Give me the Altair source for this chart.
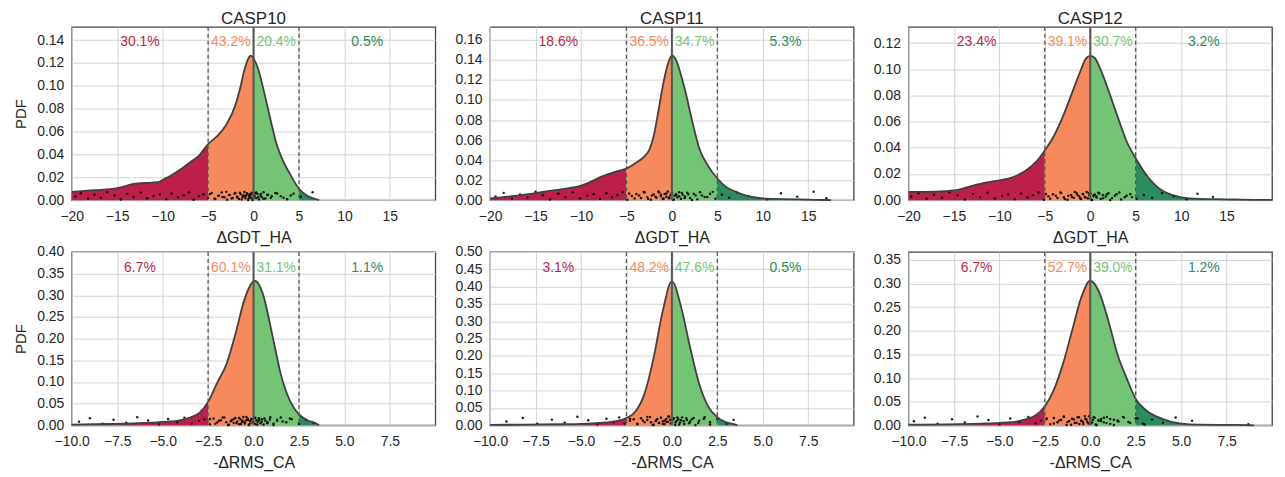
import altair as alt
import pandas as pd

FONT = "Liberation Sans"

TITLES = ["CASP10", "CASP11", "CASP12"]
X_TITLES = ["ΔGDT_HA", "-ΔRMS_CA"]
REGIONS = ["much worse", "worse", "better", "much better"]
REGION_COLORS = ["#bc1f4a", "#f68a5c", "#74c476", "#2b8c5e"]

# ---- density curves ----
P1_X = [-20, -17.5, -15, -13, -12, -10.5, -10, -9, -8, -7, -6, -5, -4, -3, -2, -1.5, -1, -0.5, -0.3, 0,
        0.5, 1, 1.5, 2, 2.5, 3, 4, 5, 6, 6.5, 7, 7.2]
P1_Y = [0.0073, 0.0087, 0.0105, 0.0145, 0.015, 0.0157, 0.0178, 0.022, 0.027, 0.033, 0.039, 0.049, 0.056,
        0.066, 0.083, 0.097, 0.114, 0.125, 0.1265, 0.124, 0.115, 0.1, 0.083, 0.066, 0.05, 0.039, 0.023,
        0.010, 0.0035, 0.0018, 0.0006, 0.0]

P2_X = [-20, -18, -16, -14, -12, -10, -9, -8, -7, -6, -5, -4, -3, -2.5, -2, -1.5, -1, -0.5, 0, 0.5, 1,
        1.5, 2, 2.5, 3, 4, 5, 6, 7, 8, 9, 10, 12, 14, 16, 17.5]
P2_Y = [0.0017, 0.0035, 0.0058, 0.0085, 0.011, 0.0145, 0.018, 0.0225, 0.026, 0.029, 0.0315, 0.037, 0.044,
        0.05, 0.064, 0.088, 0.114, 0.134, 0.1444, 0.139, 0.125, 0.108, 0.088, 0.069, 0.052, 0.034, 0.0216,
        0.013, 0.0085, 0.005, 0.003, 0.0017, 0.0011, 0.0007, 0.0003, 0.0]

P3_X = [-20, -18, -16, -15, -14, -13, -12, -11, -10, -9, -8, -7, -6, -5, -4, -3, -2, -1, -0.5, 0, 0.5, 1,
        2, 3, 4, 5, 6, 7, 8, 9, 10, 12, 14, 16, 18, 20]
P3_Y = [0.0063, 0.0063, 0.0068, 0.0074, 0.0089, 0.011, 0.0127, 0.014, 0.0152, 0.0165, 0.019, 0.023, 0.029,
        0.038, 0.049, 0.064, 0.082, 0.1, 0.108, 0.1103, 0.1086, 0.102, 0.084, 0.064, 0.045, 0.032, 0.021,
        0.0125, 0.007, 0.004, 0.0022, 0.001, 0.0008, 0.0005, 0.0003, 0.0002]

P4_X = [-10, -8, -6, -5, -4, -3.5, -3, -2.5, -2, -1.5, -1, -0.5, 0, 0.1, 0.5, 1, 1.25, 1.5, 1.75, 2, 2.5,
        3, 3.5, 3.6]
P4_Y = [0.0015, 0.003, 0.0053, 0.0076, 0.012, 0.018, 0.028, 0.054, 0.098, 0.14, 0.21, 0.29, 0.332, 0.333,
        0.305, 0.215, 0.165, 0.118, 0.083, 0.057, 0.025, 0.011, 0.003, 0.0]

P5_X = [-10, -8, -6, -5, -4, -3, -2.5, -2, -1.5, -1, -0.5, 0, 0.5, 1, 1.5, 2, 2.5, 3, 3.5, 3.6]
P5_Y = [0.001, 0.002, 0.003, 0.004, 0.0066, 0.013, 0.021, 0.04, 0.092, 0.196, 0.33, 0.415, 0.343, 0.225,
        0.12, 0.054, 0.023, 0.0085, 0.002, 0.0]

P6_X = [-10, -8, -6, -5, -4, -3, -2.5, -2, -1.5, -1, -0.5, 0, 0.5, 1, 1.5, 2, 2.5, 3, 4, 5, 6, 8, 9]
P6_Y = [0.0014, 0.002, 0.0035, 0.005, 0.0084, 0.021, 0.04, 0.075, 0.13, 0.2, 0.27, 0.306, 0.281, 0.221,
        0.15, 0.1, 0.056, 0.034, 0.013, 0.0035, 0.0014, 0.0007, 0.0]

# ---- percentages per region ----
PCT = [
    ["30.1%", "43.2%", "20.4%", "0.5%"],
    ["18.6%", "36.5%", "34.7%", "5.3%"],
    ["23.4%", "39.1%", "30.7%", "3.2%"],
    ["6.7%", "60.1%", "31.1%", "1.1%"],
    ["3.1%", "48.2%", "47.6%", "0.5%"],
    ["6.7%", "52.7%", "39.0%", "1.2%"],
]
LABEL_X_TOP = [-12.5, -2.5, 2.5, 12.5]
LABEL_X_BOT = [-6.25, -1.25, 1.25, 6.25]

# ---- sample dots: spread set and dense core set (x positions, jitter fractions) ----
JITTER = [0.42, 0.81, 0.17, 0.63, 0.29, 0.94, 0.55, 0.08, 0.72, 0.36, 0.88, 0.21, 0.49, 0.67, 0.12, 0.77,
          0.33, 0.58, 0.91, 0.04, 0.46, 0.69, 0.25, 0.84, 0.14, 0.52, 0.38, 0.97, 0.61, 0.19, 0.74, 0.31,
          0.86, 0.09, 0.57, 0.44, 0.79, 0.23, 0.66, 0.02, 0.51, 0.89, 0.35, 0.71, 0.16, 0.6, 0.27, 0.83,
          0.47, 0.11, 0.76, 0.39, 0.93, 0.22, 0.64, 0.06, 0.54, 0.87, 0.32, 0.7]
JITTER_CORE = [0.73, 0.18, 0.52, 0.91, 0.34, 0.06, 0.62, 0.27, 0.85, 0.44, 0.13, 0.69, 0.38, 0.96, 0.21,
               0.57, 0.79, 0.03, 0.48, 0.66, 0.31, 0.88, 0.15, 0.59, 0.41, 0.82, 0.24, 0.71, 0.09, 0.53,
               0.36, 0.92, 0.19, 0.64, 0.45, 0.78, 0.28, 0.55, 0.11, 0.86]
D1 = [-19.6, -19.0, -18.2, -17.5, -16.8, -16.1, -15.3, -14.6, -13.9, -13.2, -12.4, -11.7, -11.0, -10.3,
      -9.6, -9.0, -8.3, -7.7, -7.1, -6.6, -6.0, -5.5, -5.0, -4.6, -4.2, -3.8, -3.4, -3.0, -2.7, -2.4, -2.1,
      -1.8, -1.5, -1.3, -1.1, -0.9, -0.7, -0.5, -0.3, -0.1, 0.1, 0.3, 0.5, 0.8, 1.1, 1.5, 1.9, 2.4, 3.0,
      3.7, 4.4, 5.2, 6.5]
D2 = [-19.4, -18.5, -17.6, -16.7, -15.9, -15.0, -14.2, -13.4, -12.5, -11.7, -10.9, -10.1, -9.3, -8.6,
      -7.9, -7.2, -6.6, -6.0, -5.4, -4.9, -4.4, -3.9, -3.4, -3.0, -2.6, -2.2, -1.8, -1.5, -1.2, -0.9, -0.6,
      -0.3, 0.0, 0.2, 0.5, 0.8, 1.1, 1.4, 1.8, 2.2, 2.6, 3.1, 3.6, 4.2, 4.8, 5.5, 6.3, 7.2, 8.4, 10.5, 12.0,
      13.8, 15.6, 17.0]
D3 = [-19.7, -18.9, -18.0, -17.2, -16.3, -15.5, -14.6, -13.8, -12.9, -12.1, -11.3, -10.5, -9.7, -9.0,
      -8.3, -7.6, -6.9, -6.3, -5.7, -5.1, -4.6, -4.1, -3.6, -3.2, -2.8, -2.4, -2.0, -1.7, -1.4, -1.1, -0.8,
      -0.5, -0.2, 0.1, 0.4, 0.7, 1.0, 1.4, 1.8, 2.2, 2.7, 3.2, 3.8, 4.4, 5.1, 5.9, 6.8, 7.9, 9.2, 10.6,
      11.8, 13.5]
D4 = [-9.6, -9.0, -8.3, -7.7, -7.0, -6.4, -5.8, -5.2, -4.7, -4.2, -3.8, -3.4, -3.0, -2.7, -2.4, -2.2, -2.0,
      -1.8, -1.6, -1.4, -1.25, -1.1, -0.95, -0.8, -0.7, -0.6, -0.5, -0.4, -0.3, -0.2, -0.1, 0.0, 0.1, 0.2,
      0.3, 0.45, 0.6, 0.75, 0.9, 1.1, 1.3, 1.5, 1.8, 2.1, 2.5, 2.9, 3.3]
D5 = [-9.1, -8.2, -7.4, -6.6, -5.9, -5.2, -4.6, -4.1, -3.6, -3.2, -2.9, -2.6, -2.3, -2.1, -1.9, -1.7, -1.5,
      -1.35, -1.2, -1.05, -0.9, -0.8, -0.7, -0.6, -0.5, -0.4, -0.3, -0.2, -0.1, 0.0, 0.1, 0.2, 0.3, 0.4,
      0.5, 0.65, 0.8, 0.95, 1.1, 1.3, 1.5, 1.8, 2.1, 2.5, 3.0, 3.4]
D6 = [-9.7, -9.1, -8.4, -7.6, -6.9, -6.2, -5.6, -5.0, -4.4, -3.9, -3.4, -3.0, -2.7, -2.4, -2.2, -2.0, -1.8,
      -1.6, -1.45, -1.3, -1.15, -1.0, -0.85, -0.7, -0.6, -0.5, -0.4, -0.3, -0.2, -0.1, 0.0, 0.1, 0.2, 0.3,
      0.45, 0.6, 0.75, 0.9, 1.1, 1.3, 1.5, 1.8, 2.1, 2.5, 2.9, 3.4, 4.0, 4.7, 5.6, 8.7]
C1 = [-4.8, -4.3, -3.9, -3.5, -3.2, -2.9, -2.6, -2.3, -2.0, -1.8, -1.6, -1.4, -1.2, -1.0, -0.9, -0.8, -0.7,
      -0.6, -0.5, -0.4, -0.3, -0.2, -0.1, 0.0, 0.1, 0.2, 0.3, 0.45, 0.6, 0.75, 0.9, 1.1, 1.3, 1.6, 2.0,
      2.6, 3.3, 4.1]
C2 = [-4.7, -4.1, -3.6, -3.1, -2.7, -2.3, -2.0, -1.7, -1.4, -1.2, -1.0, -0.8, -0.6, -0.45, -0.3, -0.15,
      0.0, 0.15, 0.3, 0.45, 0.6, 0.8, 1.0, 1.2, 1.45, 1.7, 2.0, 2.4, 2.8, 3.3, 3.9, 4.5]
C3 = [-4.9, -4.4, -3.8, -3.3, -2.9, -2.5, -2.1, -1.8, -1.5, -1.2, -1.0, -0.8, -0.6, -0.4, -0.25, -0.1,
      0.05, 0.2, 0.35, 0.5, 0.7, 0.9, 1.15, 1.4, 1.7, 2.0, 2.4, 2.9, 3.4, 4.0, 4.6]
C4 = [-2.4, -2.1, -1.9, -1.7, -1.5, -1.35, -1.2, -1.1, -1.0, -0.9, -0.8, -0.72, -0.64, -0.56, -0.48, -0.4,
      -0.33, -0.26, -0.19, -0.12, -0.05, 0.02, 0.09, 0.16, 0.23, 0.3, 0.38, 0.46, 0.55, 0.65, 0.78, 0.92,
      1.1, 1.3, 1.6, 2.0]
C5 = [-2.3, -1.9, -1.6, -1.35, -1.15, -1.0, -0.85, -0.72, -0.6, -0.5, -0.4, -0.31, -0.22, -0.14, -0.06,
      0.02, 0.1, 0.18, 0.26, 0.35, 0.45, 0.56, 0.68, 0.82, 1.0, 1.2, 1.45, 1.75, 2.1]
C6 = [-2.4, -2.0, -1.7, -1.45, -1.25, -1.05, -0.9, -0.75, -0.62, -0.5, -0.38, -0.27, -0.16, -0.06, 0.04,
      0.14, 0.24, 0.35, 0.47, 0.6, 0.75, 0.92, 1.1, 1.3, 1.55, 1.85, 2.2, 2.6, 3.0]
DOT_TOP = [0.0075, 0.009, 0.0065, 0.02, 0.026, 0.02]

# ---- axes ----
X_DOMAIN = [[-20, 20], [-10, 10]]
X_TICKS = [[-20, -15, -10, -5, 0, 5, 10, 15], [-10, -7.5, -5, -2.5, 0, 2.5, 5, 7.5]]
X_FORMAT = ["d", ".1f"]
CUTS = [[-5, 0, 5], [-2.5, 0, 2.5]]
Y_MAX = [0.1516, 0.173, 0.1324, 0.40, 0.50, 0.367]
Y_TICKS = [
    [0, 0.02, 0.04, 0.06, 0.08, 0.10, 0.12, 0.14],
    [0, 0.02, 0.04, 0.06, 0.08, 0.10, 0.12, 0.14, 0.16],
    [0, 0.02, 0.04, 0.06, 0.08, 0.10, 0.12],
    [0, 0.05, 0.10, 0.15, 0.20, 0.25, 0.30, 0.35, 0.40],
    [0, 0.05, 0.10, 0.15, 0.20, 0.25, 0.30, 0.35, 0.40, 0.45, 0.50],
    [0, 0.05, 0.10, 0.15, 0.20, 0.25, 0.30, 0.35],
]

CURVES = [(P1_X, P1_Y), (P2_X, P2_Y), (P3_X, P3_Y), (P4_X, P4_Y), (P5_X, P5_Y), (P6_X, P6_Y)]
DOTS = [D1, D2, D3, D4, D5, D6]
CORES = [C1, C2, C3, C4, C5, C6]

W, H = 365, 174


def panel(i):
    row, col = divmod(i, 3)
    xs, ys = CURVES[i]
    cuts = CUTS[row]
    edges = [-1e9] + cuts + [1e9]
    area_rows = []
    for r, name in enumerate(REGIONS):
        lo, hi = edges[r], edges[r + 1]
        for x, y in zip(xs, ys):
            if lo <= x <= hi:
                area_rows.append({"x": x, "y": y, "region": name})
    area_df = pd.DataFrame(area_rows)
    curve_df = pd.DataFrame({"x": xs, "y": ys})
    dx = list(DOTS[i]) + list(CORES[i])
    dy = [JITTER[k] * DOT_TOP[i] for k in range(len(DOTS[i]))] + \
         [JITTER_CORE[k] * DOT_TOP[i] for k in range(len(CORES[i]))]
    dots_df = pd.DataFrame({"x": dx, "y": dy})
    lab_x = LABEL_X_TOP if row == 0 else LABEL_X_BOT
    text_df = pd.DataFrame({"x": lab_x, "y": [0.91 * Y_MAX[i]] * 4, "label": PCT[i], "region": REGIONS})
    dash_df = pd.DataFrame({"x": [cuts[0], cuts[2]]})
    zero_df = pd.DataFrame({"x": [cuts[1]]})

    xenc = alt.X("x:Q",
                 scale=alt.Scale(domain=X_DOMAIN[row], nice=False, zero=False),
                 axis=alt.Axis(values=X_TICKS[row], format=X_FORMAT[row], title=X_TITLES[row]))
    yaxis = alt.Axis(values=Y_TICKS[i], format=".2f", title="PDF" if col == 0 else None,
                     titleFontSize=15)
    yenc = alt.Y("y:Q", scale=alt.Scale(domain=[0, Y_MAX[i]], nice=False), axis=yaxis, stack=None)
    color = alt.Color("region:N", scale=alt.Scale(domain=REGIONS, range=REGION_COLORS), legend=None)

    areas = alt.Chart(area_df).mark_area(opacity=1, interpolate="monotone").encode(x=xenc, y=yenc, color=color)
    dots = alt.Chart(dots_df).mark_circle(size=6, color="black", opacity=0.9).encode(x=xenc, y=yenc)
    line = alt.Chart(curve_df).mark_line(color="#404040", strokeWidth=1.8, interpolate="monotone").encode(
        x=xenc, y=yenc)
    dashes = alt.Chart(dash_df).mark_rule(color="#555555", strokeWidth=1.3, strokeDash=[4, 3]).encode(x=xenc)
    zero = alt.Chart(zero_df).mark_rule(color="#555555", strokeWidth=2).encode(x=xenc)
    texts = alt.Chart(text_df).mark_text(font=FONT, fontSize=14, baseline="middle", align="center").encode(
        x=xenc, y=yenc, text="label:N", color=color)

    layer = alt.layer(areas, dots, line, dashes, zero, texts).properties(width=W, height=H)
    if row == 0:
        layer = layer.properties(title=alt.TitleParams(TITLES[col]))
    return layer


chart = alt.concat(*[panel(i) for i in range(6)], columns=3,
                   spacing={"row": 52, "column": 55}, bounds="flush").properties(
    padding={"left": 5, "top": 0, "right": 0, "bottom": 5}
).configure_view(
    stroke="#444444", strokeWidth=1.3
).configure_axis(
    grid=True, gridColor="#d4d4d4", gridWidth=1, domain=False, ticks=False, tickSize=0,
    labelFont=FONT, labelFontSize=14, labelColor="#262626", labelFlush=False, labelOverlap=False,
    titleFont=FONT, titleFontSize=16, titleFontWeight="normal", titleColor="#262626"
).configure_axisX(
    labelPadding=9, titlePadding=6
).configure_axisY(
    labelPadding=8, titlePadding=8
).configure_title(
    font=FONT, fontSize=17, fontWeight="normal", color="#262626", offset=-2
)

chart.save("out.html", embed_options={"renderer": "svg", "actions": False})
